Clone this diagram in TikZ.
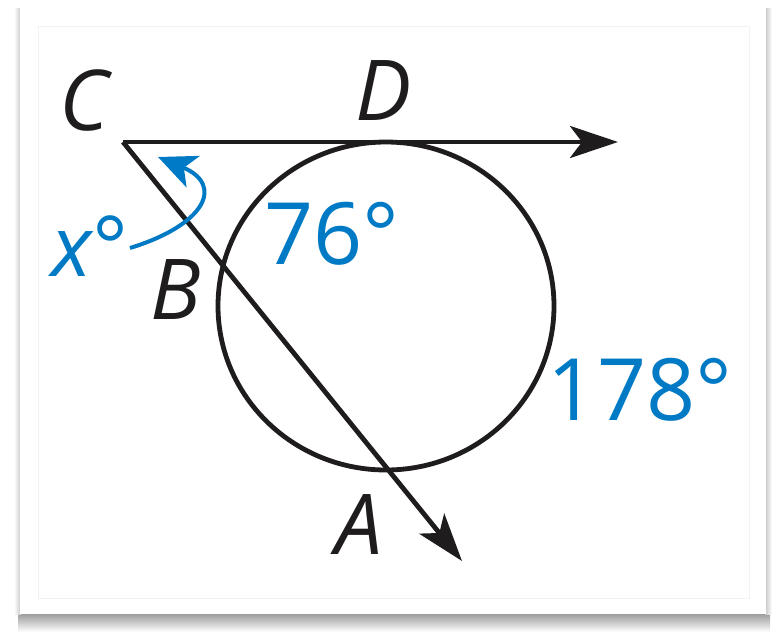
\documentclass[tikz,border=0pt]{standalone}
\usepackage{fontspec}
\setmainfont{Open Sans}
\usetikzlibrary{arrows.meta}
\definecolor{ink}{RGB}{30,28,29}
\definecolor{mblue}{RGB}{0,122,196}
\begin{document}
\begin{tikzpicture}[x=1pt,y=-1pt,
  ptlabel/.style={inner sep=0pt, text=ink, font=\fontsize{84}{84}\selectfont\itshape},
  arclabel/.style={inner sep=0pt, text=mblue, font=\fontsize{86}{86}\selectfont},
  figline/.style={draw=ink, line width=4.8pt},
  bigtip/.style={-{Stealth[length=48pt,width=32pt,inset=12pt]}}]
\useasboundingbox (0,0) rectangle (776,632);
% card with shadow
\fill[white] (0,0) rectangle (776,632);
\shade[top color=gray!85, bottom color=white] (18,612) rectangle (770,632);
\shade[left color=white, right color=gray!45] (14,8) rectangle (21,614);
\shade[left color=gray!45, right color=white] (765,8) rectangle (772,614);
\fill[white] (20,8) rectangle (766,614);
\draw[gray!10, line width=1pt] (38,26) rectangle (749,598);
% geometry
\coordinate (C) at (123,142);
\coordinate (T) at (618,142);
\coordinate (S) at (462,561);
\coordinate (O) at (386,306);
\draw[figline] (O) ellipse [x radius=168, y radius=164];
\draw[figline, bigtip] (C) -- (T);
\draw[figline, bigtip, line join=miter] (C) -- (S);
% blue angle arrow
\coordinate (xs) at (130,248);
\coordinate (xe) at (158,157);
\draw[mblue, line width=4pt, -{Stealth[length=38pt,width=34pt,inset=10pt]}]
  (xs) .. controls (205,225) and (225,185) .. (xe);
% labels
\node[ptlabel] (lC) at (84,100) {C};
\node[ptlabel] (lD) at (384,91) {D};
\node[ptlabel] (lB) at (176,290) {B};
\node[ptlabel] (lA) at (359,525) {A};
\node[arclabel] (l76) at (332,234) {76°};
\node[arclabel] (l178) at (640,390) {178°};
\node[inner sep=0pt, text=mblue, font=\fontsize{84}{84}\selectfont] (lx) at (90,246) {\itshape x\upshape°};
\end{tikzpicture}
\end{document}
